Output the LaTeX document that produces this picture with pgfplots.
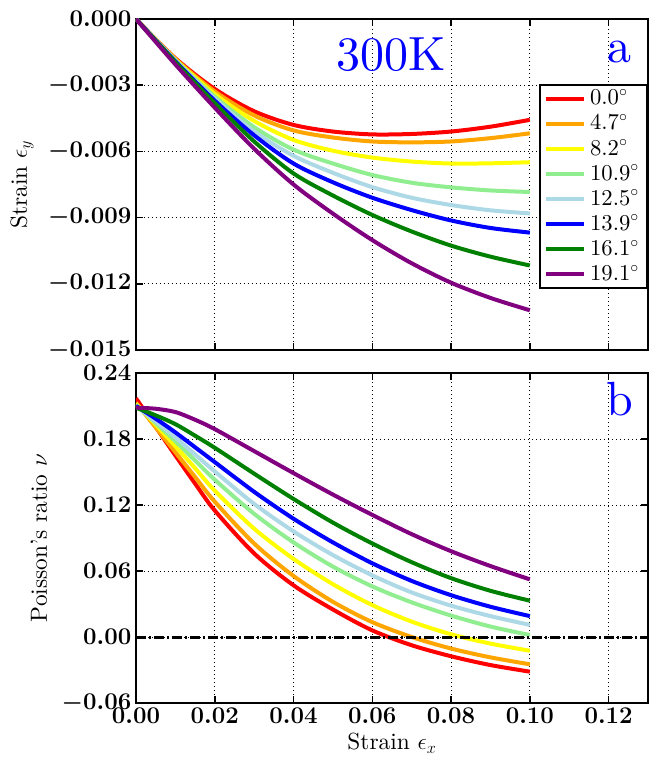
\RequirePackage{fix-cm}
\documentclass[border=0pt]{standalone}
\usepackage{fontspec}
\setmainfont{lmroman10-regular.otf}[BoldFont=lmroman10-bold.otf, ItalicFont=lmroman10-italic.otf]
\usepackage{pgfplots}
\usepackage{pgfplotstable}
\pgfplotsset{compat=1.18}

\definecolor{c00}{RGB}{255,0,0}
\definecolor{c47}{RGB}{255,165,0}
\definecolor{c82}{RGB}{255,255,0}
\definecolor{c109}{RGB}{144,238,144}
\definecolor{c125}{RGB}{173,216,230}
\definecolor{c139}{RGB}{0,0,255}
\definecolor{c161}{RGB}{0,128,0}
\definecolor{c191}{RGB}{128,0,128}

% strain eps_y vs eps_x (panel a)
\pgfplotstableread{
x     r        o        y        lg       lb       b        g        p
0.00  0        0        0        0        0        0        0        0
0.01 -0.00178 -0.00181 -0.00184 -0.00187 -0.00189 -0.00192 -0.00196 -0.00206
0.02 -0.00317 -0.00328 -0.00340 -0.00352 -0.00362 -0.00370 -0.00381 -0.00402
0.03 -0.00418 -0.00437 -0.00462 -0.00490 -0.00510 -0.00527 -0.00555 -0.00588
0.04 -0.00480 -0.00505 -0.00548 -0.00592 -0.00620 -0.00655 -0.00700 -0.00750
0.05 -0.00510 -0.00537 -0.00597 -0.00655 -0.00697 -0.00740 -0.00800 -0.00882
0.06 -0.00523 -0.00555 -0.00628 -0.00707 -0.00762 -0.00810 -0.00888 -0.01002
0.07 -0.00521 -0.00559 -0.00646 -0.00742 -0.00810 -0.00866 -0.00963 -0.01107
0.08 -0.00510 -0.00555 -0.00655 -0.00763 -0.00843 -0.00913 -0.01027 -0.01195
0.09 -0.00488 -0.00540 -0.00654 -0.00777 -0.00867 -0.00947 -0.01077 -0.01264
0.10 -0.00457 -0.00518 -0.00649 -0.00784 -0.00881 -0.00968 -0.01117 -0.01320
}\strainy

% Poisson's ratio vs eps_x (panel b)
\pgfplotstableread{
x      r        o        y        lg       lb       b        g        p
0.000  0.2170   0.2130   0.2120   0.2110   0.2100   0.2100   0.2085   0.2085
0.005  0.1910   0.1905   0.1930   0.1945   0.1960   0.1985   0.2015   0.2075
0.010  0.1650   0.1680   0.1735   0.1780   0.1815   0.1860   0.1935   0.2045
0.015  0.1395   0.1455   0.1535   0.1605   0.1660   0.1725   0.1830   0.1975
0.020  0.1150   0.1230   0.1330   0.1430   0.1505   0.1590   0.1720   0.1890
0.030  0.0760   0.0850   0.0985   0.1120   0.1210   0.1320   0.1485   0.1690
0.040  0.0470   0.0555   0.0710   0.0860   0.0960   0.1075   0.1255   0.1490
0.050  0.0250   0.0320   0.0480   0.0640   0.0745   0.0860   0.1040   0.1295
0.060  0.0060   0.0135   0.0290   0.0460   0.0560   0.0670   0.0850   0.1110
0.070 -0.0075   0.0000   0.0140   0.0315   0.0405   0.0510   0.0680   0.0935
0.080 -0.0175  -0.0105   0.0025   0.0195   0.0285   0.0380   0.0535   0.0780
0.090 -0.0255  -0.0185  -0.0060   0.0095   0.0190   0.0275   0.0420   0.0645
0.100 -0.0315  -0.0248  -0.0125   0.0018   0.0110   0.0190   0.0330   0.0524
}\poisson

\pgfplotsset{
  panel/.style={
    scale only axis, width=384pt,
    xmin=0, xmax=0.13,
    xtick={0,0.02,0.04,0.06,0.08,0.1,0.12},
    tick pos=both, tick align=inside,
    major tick length=5pt,
    every tick/.style={black, line width=1.2pt},
    axis line style={line width=1.5pt},
    grid=major,
    major grid style={black, line width=0.6pt, dash pattern=on 0.75pt off 2.25pt},
    tick label style={font=\fontsize{18}{18}\selectfont\boldmath},
    scaled ticks=false,
  },
  curve/.style={#1, line width=3pt, smooth, tension=0.5},
}

\begin{document}
\begin{tikzpicture}
\useasboundingbox (-102pt,-305.25pt) rectangle (384.75pt,262.5pt);

\begin{axis}[panel,
  at={(0,0)}, anchor=south west,
  height=248.25pt,
  ymin=-0.015, ymax=0,
  ytick={-0.015,-0.012,-0.009,-0.006,-0.003,0},
  yticklabel style={/pgf/number format/.cd, fixed, fixed zerofill, precision=3},
  xticklabels={},
  ylabel={Strain $\epsilon_y$},
  ylabel style={at={(axis description cs:-0.2227,0.5)}, anchor=center,
    font=\fontsize{17.5}{17.5}\selectfont},
  legend cell align=left,
  legend image code/.code={\draw[#1] (0pt,0pt) -- (28.5pt,0pt);},
  legend style={at={(rel axis cs:1,0.8036)}, anchor=north east,
    draw=black, line width=1.5pt, fill=white,
    font=\fontsize{17}{17}\selectfont,
    inner xsep=3pt, inner ysep=1pt, row sep=0pt,
    nodes={text height=12pt, text depth=3pt, inner ysep=1.9pt, inner xsep=3pt}},
]
\addplot[curve=c00]  table[x=x, y=r]  {\strainy};
\addplot[curve=c47]  table[x=x, y=o]  {\strainy};
\addplot[curve=c82]  table[x=x, y=y]  {\strainy};
\addplot[curve=c109] table[x=x, y=lg] {\strainy};
\addplot[curve=c125] table[x=x, y=lb] {\strainy};
\addplot[curve=c139] table[x=x, y=b]  {\strainy};
\addplot[curve=c161] table[x=x, y=g]  {\strainy};
\addplot[curve=c191] table[x=x, y=p]  {\strainy};
\legend{0.0$^\circ$, 4.7$^\circ$, 8.2$^\circ$, 10.9$^\circ$, 12.5$^\circ$, 13.9$^\circ$, 16.1$^\circ$, 19.1$^\circ$}
\node[font=\fontsize{36}{36}\selectfont, text=blue, anchor=base] at (axis cs:0.0648,-0.002356) {300K};
\node[font=\fontsize{36}{36}\selectfont, text=blue, anchor=base] at (axis cs:0.1228,-0.00195) {a};
\end{axis}

\begin{axis}[panel,
  at={(0,-17.25pt)}, anchor=north west,
  height=247.5pt,
  ymin=-0.06, ymax=0.24,
  ytick={-0.06,0,0.06,0.12,0.18,0.24},
  yticklabel style={/pgf/number format/.cd, fixed, fixed zerofill, precision=2},
  xticklabel style={/pgf/number format/.cd, fixed, fixed zerofill, precision=2},
  xlabel={Strain $\epsilon_x$},
  xlabel style={at={(axis description cs:0.5,-0.1424)}, anchor=base,
    font=\fontsize{17.5}{17.5}\selectfont},
  ylabel={Poisson's ratio $\nu$},
  ylabel style={at={(axis description cs:-0.1895,0.5)}, anchor=center,
    font=\fontsize{17.5}{17.5}\selectfont},
]
\addplot[curve=c00]  table[x=x, y=r]  {\poisson};
\addplot[curve=c47]  table[x=x, y=o]  {\poisson};
\addplot[curve=c82]  table[x=x, y=y]  {\poisson};
\addplot[curve=c109] table[x=x, y=lg] {\poisson};
\addplot[curve=c125] table[x=x, y=lb] {\poisson};
\addplot[curve=c139] table[x=x, y=b]  {\poisson};
\addplot[curve=c161] table[x=x, y=g]  {\poisson};
\addplot[curve=c191] table[x=x, y=p]  {\poisson};
\addplot[black, line width=2.25pt, sharp plot,
  dash pattern=on 7.5pt off 2.25pt on 1.5pt off 2.25pt] coordinates {(0,0) (0.13,0)};
\node[font=\fontsize{36}{36}\selectfont, text=blue, anchor=base] at (axis cs:0.1228,0.2018) {b};
\end{axis}
\end{tikzpicture}
\end{document}
